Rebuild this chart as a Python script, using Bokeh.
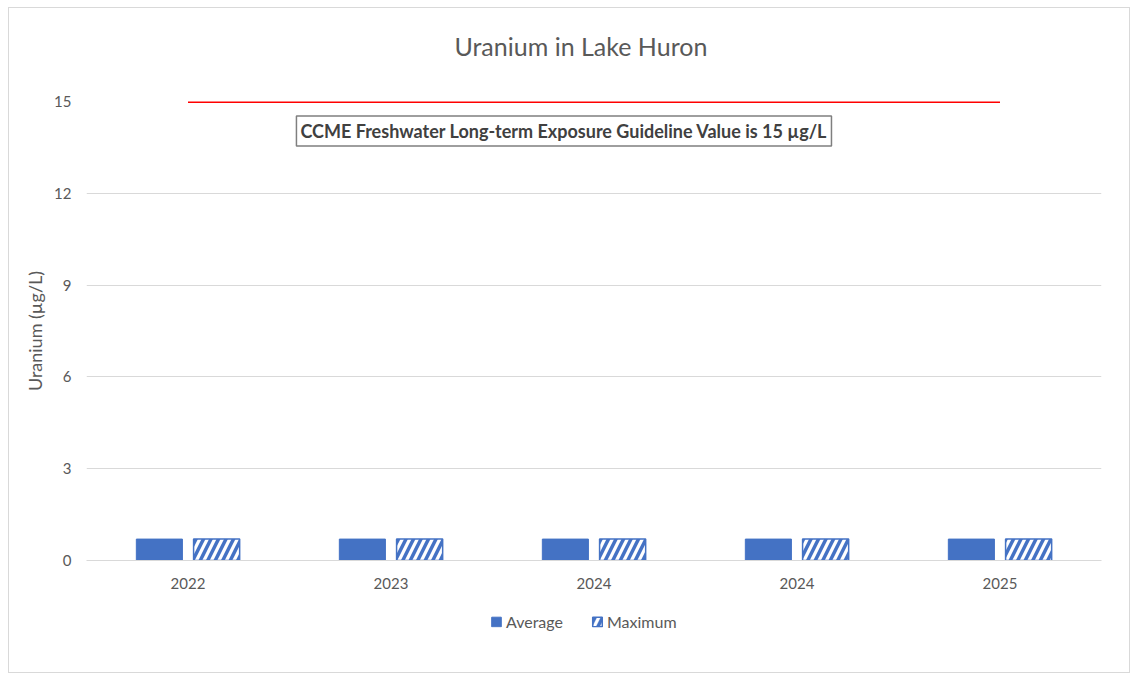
from bokeh.plotting import figure
from bokeh.layouts import column
from bokeh.models import Range1d, FixedTicker, Legend, LegendItem, Label, ColumnDataSource
from bokeh.embed import file_html
from bokeh.resources import INLINE

# ---- data ----
years = ["2022", "2023", "2024", "2024", "2025"]
average = [0.7, 0.7, 0.7, 0.7, 0.7]
maximum = [0.7, 0.7, 0.7, 0.7, 0.7]
guideline = 15
y_ticks = [0, 3, 6, 9, 12, 15]
series_names = ["Average", "Maximum"]
title_text = "Uranium in Lake Huron"
y_label = "Uranium (µg/L)"
guideline_text = "CCME Freshwater Long-term Exposure Guideline Value is 15 µg/L"

FONT = "Lato"
GREY = "#595959"
BLUE = "#4472C4"
W = 1120
AVG_STYLE = dict(fill_color=BLUE, line_color=BLUE)
MAX_STYLE = dict(fill_color="white", line_color=BLUE, line_width=1.5,
                 hatch_pattern="right_diagonal_line", hatch_color=BLUE,
                 hatch_weight=3.5, hatch_scale=15)


def strip(height, **borders):
    f = figure(width=W, height=height, output_backend="svg", toolbar_location=None,
               x_range=Range1d(0, W), y_range=Range1d(0, height),
               x_axis_type=None, y_axis_type=None, **borders)
    f.outline_line_color = None
    return f


# ---- title strip ----
TH = 70
ts = strip(TH, min_border_left=0, min_border_right=0, min_border_top=0, min_border_bottom=0)
ts.add_layout(Label(x=406, y=TH - 37, text=title_text, text_align="left", text_baseline="middle",
                    text_font=FONT, text_font_size="25px", text_color=GREY))

# ---- main chart ----
centers = [i + 0.5 for i in range(len(years))]
src = ColumnDataSource(dict(
    x_avg=[c - 0.141 for c in centers],
    x_max=[c + 0.141 for c in centers],
    average=average,
    maximum=maximum,
))

p = figure(width=W, height=592 - TH, output_backend="svg", toolbar_location=None,
           x_range=Range1d(0, len(years)), y_range=Range1d(0, max(y_ticks)),
           min_border_left=77, min_border_right=28, min_border_top=93 - TH, min_border_bottom=40)

p.vbar(x="x_avg", top="average", width=0.227, source=src, **AVG_STYLE)
p.vbar(x="x_max", top="maximum", width=0.227, source=src, **MAX_STYLE)

# guideline
p.line(x=[centers[0], centers[-1]], y=[guideline, guideline], line_color="#FF0000", line_width=3)
p.add_layout(Label(x=2.352, y=guideline - 0.965, text=guideline_text,
                   text_align="center", text_baseline="middle",
                   text_font=FONT, text_font_size="18px", text_font_style="bold",
                   text_color="#404040", background_fill_color="white",
                   border_line_color="#7F7F7F", border_line_width=1.5, padding=4))

# axes
p.xaxis.ticker = FixedTicker(ticks=centers)
p.xaxis.major_label_overrides = {c: y for c, y in zip(centers, years)}
p.yaxis.ticker = FixedTicker(ticks=y_ticks)
for ax in (p.xaxis[0], p.yaxis[0]):
    ax.major_tick_line_color = None
    ax.minor_tick_line_color = None
    ax.major_label_text_font = FONT
    ax.major_label_text_font_size = "15px"
    ax.major_label_text_color = GREY
p.xaxis.axis_line_color = "#D9D9D9"
p.xaxis.major_label_standoff = 11
p.yaxis.axis_line_color = None
p.yaxis.major_label_standoff = 9
p.yaxis.axis_label = y_label
p.yaxis.axis_label_text_font = FONT
p.yaxis.axis_label_text_font_size = "18px"
p.yaxis.axis_label_text_font_style = "normal"
p.yaxis.axis_label_text_color = GREY
p.yaxis.axis_label_standoff = 5

p.xgrid.grid_line_color = None
p.ygrid.grid_line_color = "#D9D9D9"
p.outline_line_color = None

# ---- legend strip ----
lg = strip(72, min_border_left=20, min_border_right=0, min_border_top=0, min_border_bottom=30)
off = ColumnDataSource(dict(x=[float("nan")], top=[float("nan")]))  # legend samples only
l_avg = lg.vbar(x="x", top="top", width=1, source=off, **AVG_STYLE)
l_max = lg.vbar(x="x", top="top", width=1, source=off, **MAX_STYLE)
legend = Legend(items=[LegendItem(label=series_names[0], renderers=[l_avg]),
                       LegendItem(label=series_names[1], renderers=[l_max])],
                orientation="horizontal", location="left",
                label_text_font=FONT, label_text_font_size="16px", label_text_color=GREY,
                glyph_width=12, glyph_height=12, spacing=28, label_standoff=4,
                border_line_color=None, background_fill_alpha=0, margin=404, padding=4)
lg.add_layout(legend)

layout = column(ts, p, lg, spacing=0,
                styles={"border": "1px solid #D9D9D9", "margin-left": "8px", "margin-top": "7px"})

open("out.html", "w").write(file_html(layout, INLINE))
